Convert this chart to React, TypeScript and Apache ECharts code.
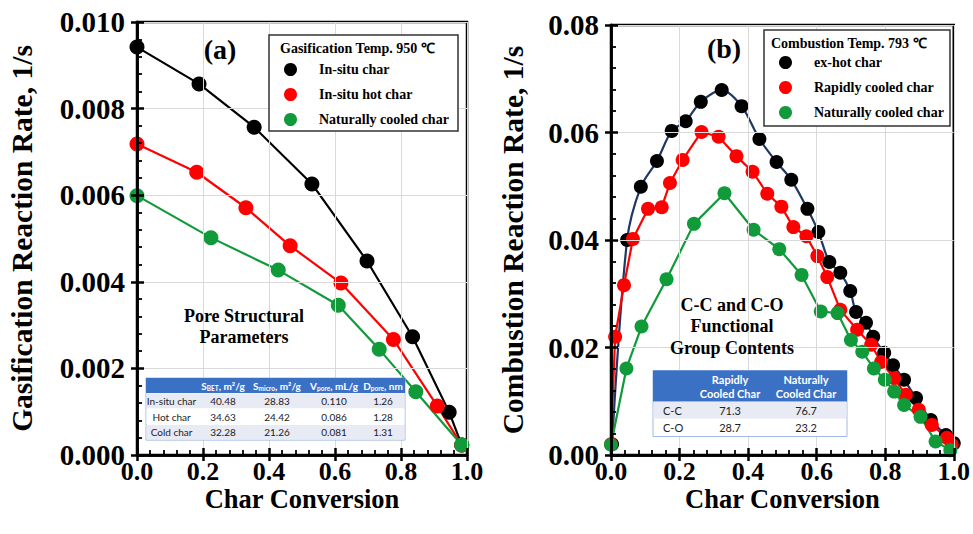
import { useEffect, useRef } from 'react';
import * as echarts from 'echarts';

const SERIF = '"Liberation Serif", "Times New Roman", serif';
const SANS = 'Lato, "Liberation Sans", sans-serif';

// ---------- Panel (a): gasification ----------
const gasInsituX = [0.0, 0.188, 0.355, 0.53, 0.697, 0.835, 0.946, 0.984];
const gasInsituY = [0.00942, 0.00857, 0.00757, 0.00626, 0.00448, 0.00273, 0.00099, 0.00023];
const gasHotX = [0.0, 0.181, 0.33, 0.464, 0.618, 0.777, 0.91, 0.984];
const gasHotY = [0.00718, 0.00653, 0.00571, 0.00483, 0.00397, 0.00267, 0.00113, 0.00023];
const gasCooledX = [0.0, 0.224, 0.428, 0.61, 0.734, 0.845, 0.984];
const gasCooledY = [0.00599, 0.00502, 0.00427, 0.00346, 0.00244, 0.00146, 0.00023];
const gasNames = ['In-situ char', 'In-situ hot char', 'Naturally cooled char'];

// ---------- Panel (b): combustion ----------
const combHotX = [0.003, 0.047, 0.087, 0.134, 0.177, 0.218, 0.262, 0.323, 0.381, 0.433, 0.483, 0.526, 0.573, 0.605, 0.637, 0.669, 0.698, 0.715, 0.744, 0.765, 0.797, 0.823, 0.855, 0.89, 0.933, 0.977, 1.0];
const combHotY = [0.002, 0.04, 0.0499, 0.0547, 0.0603, 0.0621, 0.0657, 0.0679, 0.0649, 0.0588, 0.0545, 0.0512, 0.0458, 0.0415, 0.0359, 0.0339, 0.0305, 0.0266, 0.0246, 0.022, 0.019, 0.0167, 0.014, 0.0106, 0.0065, 0.0037, 0.0022];
const combRapidX = [0.0, 0.012, 0.038, 0.064, 0.108, 0.148, 0.172, 0.209, 0.264, 0.314, 0.366, 0.413, 0.456, 0.497, 0.532, 0.57, 0.602, 0.631, 0.669, 0.718, 0.759, 0.788, 0.826, 0.86, 0.898, 0.936, 0.98, 0.994];
const combRapidY = [0.002, 0.022, 0.0316, 0.0402, 0.0458, 0.0461, 0.0506, 0.0549, 0.0601, 0.0592, 0.0556, 0.0527, 0.0486, 0.0462, 0.0424, 0.0407, 0.037, 0.0331, 0.027, 0.0233, 0.0205, 0.0173, 0.0143, 0.0112, 0.0084, 0.0056, 0.0032, 0.0019];
const combCooledX = [0.0, 0.045, 0.089, 0.162, 0.242, 0.331, 0.416, 0.491, 0.556, 0.612, 0.661, 0.7, 0.733, 0.767, 0.799, 0.826, 0.855, 0.903, 0.947, 0.99];
const combCooledY = [0.0019, 0.0161, 0.0239, 0.0327, 0.043, 0.0487, 0.0419, 0.0383, 0.0335, 0.0267, 0.0264, 0.0214, 0.0192, 0.0161, 0.014, 0.0118, 0.0093, 0.0071, 0.0025, 0.0009];
const combNames = ['ex-hot char', 'Rapidly cooled char', 'Naturally cooled char'];

// ---------- Tables ----------
const poreHeaderMain = ['S', 'S', 'V', 'D'];
const poreHeaderSub = ['BET', 'micro', 'pore', 'pore'];
const poreHeaderUnit = [', m²/g', ', m²/g', ', mL/g', ', nm'];
const poreRowLabels = ['In-situ char', 'Hot char', 'Cold char'];
const poreSBET = ['40.48', '34.63', '32.28'];
const poreSmicro = ['28.83', '24.42', '21.26'];
const poreVpore = ['0.110', '0.086', '0.081'];
const poreDpore = ['1.26', '1.28', '1.31'];

const fgColHeaders = ['Rapidly\nCooled Char', 'Naturally\nCooled Char'];
const fgRowLabels = ['C-C', 'C-O'];
const fgRapid = ['71.3', '28.7'];
const fgNatural = ['76.7', '23.2'];

const zip = (xs: number[], ys: number[]) => xs.map((x, i) => [x, ys[i]]);

const BLACK = '#000000';
const RED = '#ff0000';
const GREEN = '#109a3a';
const NAVY = '#1f3864';

function txt(x: number, y: number, text: string, o: any = {}) {
  return {
    type: 'text',
    x,
    y,
    z: o.z ?? 20,
    style: {
      text,
      fill: o.fill ?? '#000',
      fontSize: o.fontSize ?? 14,
      fontWeight: o.fontWeight ?? 'bold',
      fontFamily: o.fontFamily ?? SERIF,
      align: o.align ?? 'center',
      textAlign: o.align ?? 'center',
      verticalAlign: 'middle',
      textVerticalAlign: 'middle',
      lineHeight: o.lineHeight,
      rich: o.rich,
    },
  };
}

function rect(x: number, y: number, w: number, h: number, fill: string, stroke?: string, lw = 1, z = 15) {
  return {
    type: 'rect',
    z,
    shape: { x, y, width: w, height: h },
    style: { fill, stroke: stroke ?? 'none', lineWidth: lw },
  };
}

function axisPair(dim: 'x' | 'y', gridIndex: number, min: number, max: number, interval: number, digits: number, name: string, nameGap: number) {
  const isX = dim === 'x';
  const labelStyle = { color: '#000', fontFamily: SERIF, fontWeight: 'bold', fontSize: isX ? 26 : 29, lineHeight: isX ? 26 : 29 };
  const main = {
    gridIndex,
    type: 'value',
    min,
    max,
    interval,
    position: isX ? 'bottom' : 'left',
    axisLine: { show: true, onZero: false, lineStyle: { color: '#000', width: 2.5 } },
    axisTick: { show: true, inside: false, length: 6, lineStyle: { color: '#000', width: 2.5 } },
    axisLabel: { show: true, margin: isX ? 3 : 12, formatter: (v: number) => v.toFixed(digits), ...labelStyle },
    splitLine: { show: true, lineStyle: { color: '#d9d9d9', width: 1 } },
    name,
    nameLocation: 'middle',
    nameGap,
    nameMoveOverlap: false,
    nameTextStyle: { color: '#000', fontFamily: SERIF, fontWeight: 'bold', fontSize: isX ? 26.5 : 29.5, lineHeight: isX ? 26.5 : 29.5 },
    z: 5,
  };
  const inner = {
    gridIndex,
    type: 'value',
    min,
    max,
    interval,
    position: isX ? 'bottom' : 'left',
    axisLine: { show: true, onZero: false, lineStyle: { color: '#000', width: 2.5 } },
    axisTick: { show: true, inside: true, length: 7, lineStyle: { color: '#000', width: 2.5 } },
    minorTick: { show: true, splitNumber: 5, length: 5, lineStyle: { color: '#000', width: 1.8 } },
    axisLabel: { show: false },
    splitLine: { show: false },
    z: 6,
  };
  return [main, inner];
}

function lineSeries(name: string, xs: number[], ys: number[], color: string, lineColor: string, size: number, axisIdx: number, smooth: number | boolean = false) {
  return {
    type: 'line',
    name,
    xAxisIndex: axisIdx,
    yAxisIndex: axisIdx,
    data: zip(xs, ys),
    symbol: 'circle',
    symbolSize: size,
    smooth,
    itemStyle: { color },
    lineStyle: { color: lineColor, width: 2.2 },
    emphasis: { disabled: true },
  };
}

export default function App() {
  const ref = useRef<HTMLDivElement>(null);
  useEffect(() => {
    const chart = echarts.init(ref.current!, null, { renderer: 'svg' });

    const graphic: any[] = [];
    graphic.push(txt(220, 49, '(a)', { fontSize: 28 }));
    graphic.push(txt(724, 48, '(b)', { fontSize: 28 }));

    graphic.push(rect(269, 35, 189, 96, '#fff', '#333', 1.5, 10));
    graphic.push(txt(280, 48, 'Gasification Temp. 950 ℃', { fontSize: 14, align: 'left', z: 11 }));
    graphic.push(rect(764, 30, 186, 96, '#fff', '#333', 1.5, 10));
    graphic.push(txt(771, 43, 'Combustion Temp. 793 ℃', { fontSize: 14, align: 'left', z: 11 }));

    graphic.push(txt(244, 326, 'Pore Structural\nParameters', { fontSize: 18, lineHeight: 21 }));
    graphic.push(txt(732, 326, 'C-C and C-O\nFunctional\nGroup Contents', { fontSize: 18, lineHeight: 21.5 }));

    const ptx = 146, pty = 378, ptw = 259;
    const pHeadH = 15, pRowH = 15.7;
    const pCols = [171.5, 223, 277, 334, 383];
    graphic.push(rect(ptx, pty, ptw, pHeadH + pRowH * 3, '#fff', '#9fb9e4', 1, 15));
    graphic.push(rect(ptx, pty, ptw, pHeadH, '#3b71c4', undefined, 1, 16));
    for (let r = 0; r < 3; r++) {
      const ry = pty + pHeadH + r * pRowH;
      graphic.push(rect(ptx + 0.5, ry + 0.5, ptw - 1, pRowH - 1, r % 2 === 0 ? '#e8eaf4' : '#ffffff', undefined, 1, 16));
    }
    for (let c = 0; c < 4; c++) {
      graphic.push({
        type: 'text',
        x: pCols[c + 1],
        y: pty + pHeadH / 2,
        z: 20,
        style: {
          text: `{m|${poreHeaderMain[c]}}{s|${poreHeaderSub[c]}}{m|${poreHeaderUnit[c]}}`,
          align: 'center',
          verticalAlign: 'middle',
          textAlign: 'center',
          textVerticalAlign: 'middle',
          rich: {
            m: { fontSize: 10, fontWeight: 'bold', fontFamily: SANS, fill: '#fff', color: '#fff', lineHeight: 13 },
            s: { fontSize: 6.5, fontWeight: 'bold', fontFamily: SANS, fill: '#fff', color: '#fff', lineHeight: 8, verticalAlign: 'bottom' },
          },
        },
      });
    }
    const poreCols = [poreRowLabels, poreSBET, poreSmicro, poreVpore, poreDpore];
    for (let r = 0; r < 3; r++) {
      const cy = pty + pHeadH + r * pRowH + pRowH / 2;
      for (let c = 0; c < 5; c++) {
        graphic.push(txt(pCols[c], cy, poreCols[c][r], { fontSize: 10, fontWeight: 'normal', fontFamily: SANS, fill: '#222' }));
      }
    }

    const ftx = 653, fty = 370.5, ftw = 194;
    const fHeadH = 31, fRowH = 17.5;
    graphic.push(rect(ftx, fty, ftw, fHeadH + fRowH * 2, '#fff', '#9fb9e4', 1, 15));
    graphic.push(rect(ftx, fty, ftw, fHeadH, '#3b71c4', undefined, 1, 16));
    graphic.push(rect(ftx + 0.5, fty + fHeadH + 0.5, ftw - 1, fRowH - 1, '#e8eaf4', undefined, 1, 16));
    const fCols = [730, 806];
    fgColHeaders.forEach((h, i) => {
      graphic.push(txt(fCols[i], fty + fHeadH / 2, h, { fontSize: 11, fontFamily: SANS, fill: '#fff', lineHeight: 14 }));
    });
    const fgVals = [fgRapid, fgNatural];
    fgRowLabels.forEach((lab, r) => {
      const cy = fty + fHeadH + r * fRowH + fRowH / 2;
      graphic.push(txt(663, cy, lab, { fontSize: 11, fontWeight: 'normal', fontFamily: SANS, fill: '#222', align: 'left' }));
      fgVals.forEach((col, c) => {
        graphic.push(txt(fCols[c], cy, col[r], { fontSize: 11, fontWeight: 'normal', fontFamily: SANS, fill: '#222' }));
      });
    });

    const [xa0, xa1] = axisPair('x', 0, 0, 1, 0.2, 1, 'Char Conversion', 31);
    const [xb0, xb1] = axisPair('x', 1, 0, 1, 0.2, 1, 'Char Conversion', 31);
    const [ya0, ya1] = axisPair('y', 0, 0, 0.01, 0.002, 3, 'Gasification Reaction Rate, 1/s', 100);
    const [yb0, yb1] = axisPair('y', 1, 0, 0.08, 0.02, 2, 'Combustion Reaction Rate, 1/s', 83);

    const legendText = { color: '#000', fontFamily: SERIF, fontWeight: 'bold', fontSize: 14, padding: [0, 0, 0, 17] };

    const option: any = {
      animation: false,
      backgroundColor: '#fff',
      grid: [
        { left: 137, top: 22, width: 330, height: 433, show: true, borderColor: '#000', borderWidth: 2.5, backgroundColor: 'transparent' },
        { left: 611, top: 25, width: 344, height: 430, show: true, borderColor: '#000', borderWidth: 2.5, backgroundColor: 'transparent' },
      ],
      xAxis: [xa0, xb0, xa1, xb1],
      yAxis: [ya0, yb0, ya1, yb1],
      legend: [
        {
          data: gasNames,
          orient: 'vertical',
          left: 284,
          top: 62.5,
          padding: 0,
          icon: 'circle',
          itemWidth: 13,
          itemHeight: 13,
          itemGap: 11,
          selectedMode: false,
          textStyle: legendText,
          z: 12,
        },
        {
          data: combNames,
          orient: 'vertical',
          left: 779,
          top: 55.5,
          padding: 0,
          icon: 'circle',
          itemWidth: 13,
          itemHeight: 13,
          itemGap: 11,
          selectedMode: false,
          textStyle: legendText,
          z: 12,
        },
      ],
      series: [
        lineSeries(gasNames[0], gasInsituX, gasInsituY, BLACK, BLACK, 15, 0),
        lineSeries(gasNames[1], gasHotX, gasHotY, RED, RED, 15, 0),
        lineSeries(gasNames[2], gasCooledX, gasCooledY, GREEN, GREEN, 15, 0),
        lineSeries(combNames[0], combHotX, combHotY, BLACK, NAVY, 14, 1, 0.3),
        lineSeries(combNames[1], combRapidX, combRapidY, RED, RED, 14, 1),
        lineSeries(combNames[2], combCooledX, combCooledY, GREEN, GREEN, 14, 1),
      ],
      graphic,
    };
    chart.setOption(option);
    return () => chart.dispose();
  }, []);
  return (
    <div
      ref={ref}
      style={{ position: 'absolute', left: 0, top: 0, width: 973, height: 534, background: '#fff' }}
    />
  );
}
